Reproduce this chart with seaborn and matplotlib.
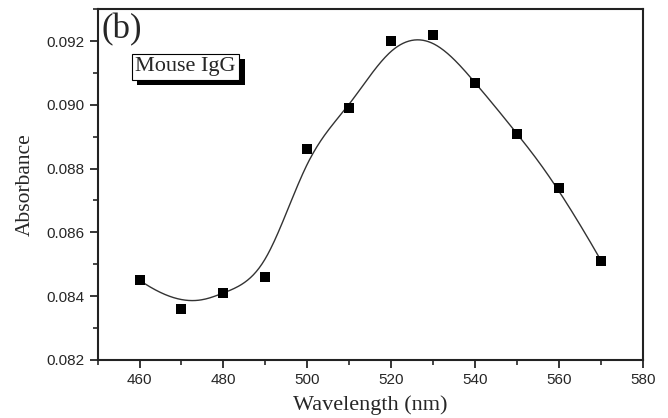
import numpy as np
import pandas as pd
import matplotlib.pyplot as plt
import seaborn as sns
from matplotlib.ticker import MultipleLocator
import matplotlib.patheffects as pe

# data
wavelength = [460, 470, 480, 490, 500, 510, 520, 530, 540, 550, 560, 570]
absorbance = [0.0845, 0.0836, 0.0841, 0.0846, 0.0886, 0.0899,
              0.0920, 0.0922, 0.0907, 0.0891, 0.0874, 0.0851]

df = pd.DataFrame({'wl': wavelength, 'abs': absorbance})


def bspline(ctrl, n_out=400, k=3):
    # clamped uniform B-spline using the data points as control points
    ctrl = np.asarray(ctrl, dtype=float)
    n = len(ctrl)
    knots = np.concatenate([np.zeros(k), np.arange(n - k + 1), np.full(k, n - k)])
    t = np.linspace(0, n - k, n_out)
    t[-1] -= 1e-9
    B = np.zeros((n_out, len(knots) - 1))
    for i in range(len(knots) - 1):
        B[:, i] = (t >= knots[i]) & (t < knots[i + 1])
    for d in range(1, k + 1):
        Bn = np.zeros((n_out, len(knots) - 1 - d))
        for i in range(len(knots) - 1 - d):
            a = knots[i + d] - knots[i]
            b = knots[i + d + 1] - knots[i + 1]
            left = (t - knots[i]) / a * B[:, i] if a > 0 else 0
            right = (knots[i + d + 1] - t) / b * B[:, i + 1] if b > 0 else 0
            Bn[:, i] = left + right
        B = Bn
    return B @ ctrl


fit = pd.DataFrame({'wl': bspline(df['wl']), 'abs': bspline(df['abs'])})

sns.set_style('ticks')
fig = plt.figure(figsize=(6.68, 4.18), dpi=100)
ax = fig.add_axes([0.146, 0.139, 0.817, 0.839])

sns.lineplot(data=fit, x='wl', y='abs', color='#333333', linewidth=1.0,
             sort=False, ax=ax)
sns.scatterplot(data=df, x='wl', y='abs', marker='s', s=55, color='black',
                edgecolor='black', linewidth=0, ax=ax, zorder=3)

ax.set_xlim(450, 580)
ax.set_ylim(0.082, 0.093)
ax.xaxis.set_major_locator(MultipleLocator(20))
ax.xaxis.set_minor_locator(MultipleLocator(10))
ax.yaxis.set_major_locator(MultipleLocator(0.002))
ax.yaxis.set_minor_locator(MultipleLocator(0.001))
ax.yaxis.set_major_formatter(plt.FuncFormatter(lambda v, p: f'{v:.3f}'))

for s in ax.spines.values():
    s.set_linewidth(1.5)
    s.set_color('#222222')
ax.tick_params(which='major', direction='out', length=6, width=1.3,
               labelsize=11, top=False, right=False)
ax.tick_params(which='minor', direction='out', length=3.5, width=1.2,
               top=False, right=False)
for lab in ax.get_xticklabels() + ax.get_yticklabels():
    lab.set_family('Liberation Sans')

ax.set_xlabel('Wavelength (nm)', family='Liberation Serif', fontsize=16, labelpad=6)
ax.set_ylabel('Absorbance', family='Liberation Serif', fontsize=15.5, labelpad=8)

ax.text(0.008, 0.988, '(b)', transform=ax.transAxes, family='Liberation Serif',
        fontsize=25, va='top', ha='left')
ax.text(0.069, 0.836, 'Mouse IgG', transform=ax.transAxes, family='Liberation Serif',
        fontsize=16, va='center', ha='left',
        bbox=dict(boxstyle='square,pad=0.15', fc='white', ec='black', lw=0.8,
                  path_effects=[pe.SimplePatchShadow(offset=(4, -4), shadow_rgbFace='black', alpha=1),
                                pe.Normal()]))

fig.savefig('out.png', dpi=100)
